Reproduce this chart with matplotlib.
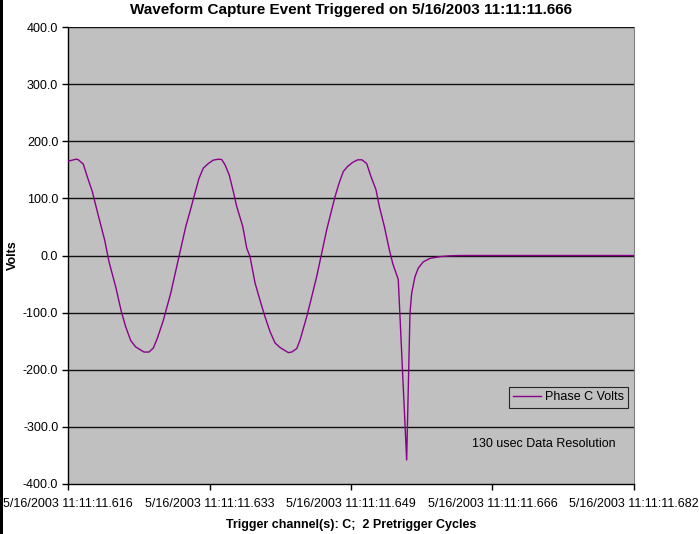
import matplotlib
matplotlib.use("Agg")
import matplotlib.pyplot as plt
from matplotlib.patches import Rectangle

plt.rcParams['font.family'] = ['Liberation Sans', 'DejaVu Sans']

# time in ms after 5/16/2003 11:11:11.616
time_ms = [0.0, 0.91, 1.18, 1.80, 2.27, 2.86, 3.45, 4.32, 4.83, 5.62, 6.28, 6.80, 7.39,
           7.97, 8.95, 9.54, 10.05, 10.52, 11.22, 12.10, 13.07, 13.86, 14.37, 14.84,
           15.43, 15.94, 16.53, 17.11, 17.70, 18.10, 18.49, 18.99, 19.47, 19.87, 20.58,
           21.05, 21.44, 22.03, 22.61, 23.20, 23.79, 24.38, 24.97, 25.95, 26.35, 26.94,
           27.33, 28.12, 28.71, 29.29, 29.88, 30.47, 31.06, 31.45, 31.96, 32.43, 32.94,
           33.53, 34.12, 34.63, 35.18, 35.69, 36.28, 36.67, 37.26, 37.85, 38.25, 38.90,
           39.89, 40.28, 40.48, 40.87, 41.26, 41.85, 42.64, 43.82, 45.0, 46.17, 50.0,
           55.0, 60.0, 66.67]
phase_c_volts = [165, 168.5, 168, 160, 138, 112, 77, 27, -11, -55, -98, -125, -149,
                 -160, -169, -169, -162, -145, -114, -66, -2, 50, 77, 103,
                 135, 153, 161, 167, 168.5, 168, 159, 141, 112, 86, 51,
                 13, -2, -48, -78, -107, -133, -153, -161, -170, -169, -163,
                 -148, -107, -72, -37, 4, 45, 80, 103, 128, 147, 156,
                 163, 167.5, 167.5, 161, 138, 115, 86, 51, 10, -14, -42,
                 -358, -101, -66, -37, -22, -11, -5, -2, -0.5, 0, 0,
                 0, 0, 0]

tick_pos_ms = [0.0, 16.667, 33.333, 50.0, 66.667]
tick_labels = ["5/16/2003 11:11:11.616", "5/16/2003 11:11:11.633",
               "5/16/2003 11:11:11.649", "5/16/2003 11:11:11.666",
               "5/16/2003 11:11:11.682"]
y_ticks = [-400, -300, -200, -100, 0, 100, 200, 300, 400]

fig = plt.figure(figsize=(6.99, 5.34), dpi=100)
fig.patch.set_facecolor('white')
fig.patches.append(Rectangle((0, 0), 3 / 699, 1, transform=fig.transFigure,
                             facecolor='black', edgecolor='none', zorder=10))

ax = fig.add_axes([68 / 699, 50 / 534, 566 / 699, 457 / 534])
ax.set_facecolor('#c0c0c0')
ax.plot(time_ms, phase_c_volts, color='#8b008b', lw=1.0, label='Phase C Volts', zorder=3)

ax.set_xlim(tick_pos_ms[0], tick_pos_ms[-1])
ax.set_ylim(-400, 400)
ax.set_yticks(y_ticks)
ax.set_yticklabels([f"{v:.1f}" for v in y_ticks], fontsize=9)
ax.set_xticks(tick_pos_ms)
ax.set_xticklabels(tick_labels, fontsize=9)
ax.tick_params(axis='both', direction='out', length=4, width=1, color='black', pad=3)
ax.tick_params(axis='x', pad=6)

for v in y_ticks[1:]:
    ax.axhline(v, color='#111111', lw=1.0, zorder=1)

for s in ['left', 'bottom']:
    ax.spines[s].set_color('black')
    ax.spines[s].set_linewidth(1.0)
ax.spines['right'].set_color('#808080')
ax.spines['top'].set_visible(False)

fig.text(13 / 699, 1 - 255 / 534, 'Volts', rotation=90, ha='center', va='center',
         fontsize=9, fontweight='bold')
fig.text(351 / 699, 1 - 525 / 534, 'Trigger channel(s): C;  2 Pretrigger Cycles',
         ha='center', va='center', fontsize=9, fontweight='bold')
fig.text(351 / 699, 1 - 10 / 534, 'Waveform Capture Event Triggered on 5/16/2003 11:11:11.666',
         ha='center', va='center', fontsize=11, fontweight='bold')

leg = ax.legend(loc='upper left', bbox_to_anchor=((509 - 68) / 566, (484 - 387) / 457),
                fontsize=9, frameon=True, fancybox=False, handlelength=2.2,
                borderpad=0.35, handletextpad=0.3, borderaxespad=0)
leg.get_frame().set_facecolor('#c0c0c0')
leg.get_frame().set_edgecolor('black')
leg.get_frame().set_linewidth(0.8)

ax.text((544 - 68) / 566, (484 - 444) / 457, '130 usec Data Resolution',
        transform=ax.transAxes, ha='center', va='center', fontsize=9)

fig.savefig('out.png', dpi=100, facecolor='white')
